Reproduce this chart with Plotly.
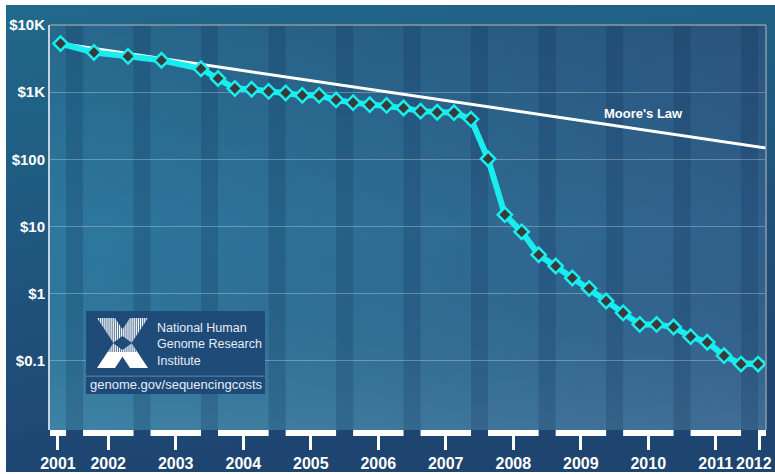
import datetime as dt
import urllib.parse
import plotly.graph_objects as go

# ---------------- data ----------------
dates = [
    "2001-09-01", "2002-03-01", "2002-09-01", "2003-03-01", "2003-10-01",
    "2004-01-01", "2004-04-01", "2004-07-01", "2004-10-01",
    "2005-01-01", "2005-04-01", "2005-07-01", "2005-10-01",
    "2006-01-01", "2006-04-01", "2006-07-01", "2006-10-01",
    "2007-01-01", "2007-04-01", "2007-07-01", "2007-10-01",
    "2008-01-01", "2008-04-01", "2008-07-01", "2008-10-01",
    "2009-01-01", "2009-04-01", "2009-07-01", "2009-10-01",
    "2010-01-01", "2010-04-01", "2010-07-01", "2010-10-01",
    "2011-01-01", "2011-04-01", "2011-07-01", "2011-10-01",
    "2012-01-01",
]
cost_per_mb = [
    5292.39, 3898.64, 3413.80, 2986.20, 2230.98,
    1598.91, 1135.70, 1107.46, 1028.85,
    974.16, 897.76, 898.90, 766.73,
    699.20, 651.81, 636.41, 581.92,
    522.71, 502.61, 495.96, 397.09,
    102.13, 15.03, 8.36, 3.81,
    2.59, 1.72, 1.20, 0.78,
    0.52, 0.35, 0.35, 0.32,
    0.23, 0.19, 0.12, 0.09,
    0.09,
]
moore_dates = ["2001-09-01", "2012-02-13"]
moore_values = [5292.39, 148.0]

years = ["2001", "2002", "2003", "2004", "2005", "2006",
         "2007", "2008", "2009", "2010", "2011", "2012"]
y_tickvals = [10000, 1000, 100, 10, 1, 0.1]
y_ticktext = ["$10K", "$1K", "$100", "$10", "$1", "$0.1"]

# ---------------- layout geometry ----------------
W, H = 775, 474
L, R, T, B = 50, 766, 25, 430          # plot area in pixels
x_start = dt.date(2001, 7, 6)
x_end = dt.date(2012, 2, 13)


def px(xp):
    return (xp - L) / (R - L)


def py(yp):
    return (B - yp) / (B - T)


def svg_uri(svg):
    return "data:image/svg+xml;charset=utf-8," + urllib.parse.quote(svg)


paper_svg = (
    '<svg xmlns="http://www.w3.org/2000/svg" width="100" height="100" '
    'viewBox="0 0 100 100" preserveAspectRatio="none">'
    '<defs><linearGradient id="g" x1="0" y1="0" x2="0.25" y2="1">'
    '<stop offset="0" stop-color="#21698b"/>'
    '<stop offset="0.45" stop-color="#1f5880"/>'
    '<stop offset="1" stop-color="#1e4470"/>'
    '</linearGradient></defs>'
    '<rect width="100" height="100" fill="url(#g)"/></svg>'
)
plot_svg = (
    '<svg xmlns="http://www.w3.org/2000/svg" width="100" height="100" '
    'viewBox="0 0 100 100" preserveAspectRatio="none">'
    '<defs><linearGradient id="h" x1="0" y1="0" x2="1" y2="0">'
    '<stop offset="0" stop-color="#2d789d"/>'
    '<stop offset="1" stop-color="#30608b"/>'
    '</linearGradient>'
    '<linearGradient id="v" x1="0" y1="0" x2="0" y2="1">'
    '<stop offset="0" stop-color="#000820" stop-opacity="0.14"/>'
    '<stop offset="0.5" stop-color="#000820" stop-opacity="0.0"/>'
    '<stop offset="1" stop-color="#ffffff" stop-opacity="0.08"/>'
    '</linearGradient></defs>'
    '<rect width="100" height="100" fill="url(#h)"/>'
    '<rect width="100" height="100" fill="url(#v)"/></svg>'
)

fig = go.Figure()

# Moore's law line
fig.add_trace(go.Scatter(
    x=moore_dates, y=moore_values, mode="lines",
    line=dict(color="white", width=3), hoverinfo="skip", showlegend=False,
))
# sequencing cost
fig.add_trace(go.Scatter(
    x=dates, y=cost_per_mb, mode="lines+markers",
    line=dict(color="#18eef0", width=6),
    marker=dict(symbol="diamond", size=11, color="#3a3a3a",
                line=dict(color="#18eef0", width=2.5)),
    showlegend=False,
))

shapes = []
# darker stripes Oct -> Jan and white bars Jan -> Oct under the axis
tickvals = []
ticktext = []
for yr in years:
    y = int(yr)
    s = max(dt.date(y, 1, 1), x_start)
    e = min(dt.date(y, 10, 1), x_end)
    mid = s + (e - s) / 2
    if y == 2012:
        mid = s + dt.timedelta(days=6)
    tickvals.append(mid.isoformat())
    # the last label sits at the right edge; it is drawn as an annotation
    ticktext.append("" if y == 2012 else yr)
    shapes.append(dict(type="rect", xref="x", yref="paper",
                       x0=s.isoformat(), x1=e.isoformat(),
                       y0=-6 / (B - T), y1=0, fillcolor="white",
                       line=dict(width=0), layer="above"))
    ds = dt.date(y, 10, 1)
    de = min(dt.date(y + 1, 1, 1), x_end)
    if ds < x_end:
        shapes.append(dict(type="rect", xref="x", yref="paper",
                           x0=ds.isoformat(), x1=de.isoformat(), y0=0, y1=1,
                           fillcolor="rgba(12,40,80,0.20)",
                           line=dict(width=0), layer="below"))

# frame (top and right)
shapes.append(dict(type="line", xref="paper", yref="paper", x0=0, x1=1, y0=1, y1=1,
                   line=dict(color="#8a9aab", width=1.5)))
shapes.append(dict(type="line", xref="paper", yref="paper", x0=1, x1=1, y0=0, y1=1,
                   line=dict(color="#8a9aab", width=1.5)))

# NHGRI box
shapes.append(dict(type="rect", xref="paper", yref="paper",
                   x0=px(86), x1=px(265), y0=py(376), y1=py(311),
                   fillcolor="#1f4b79", line=dict(width=0)))
shapes.append(dict(type="rect", xref="paper", yref="paper",
                   x0=px(86), x1=px(265), y0=py(394), y1=py(376.5),
                   fillcolor="#1f4a77", line=dict(width=0)))
shapes.append(dict(type="line", xref="paper", yref="paper",
                   x0=px(86), x1=px(265), y0=py(376), y1=py(376),
                   line=dict(color="rgba(255,255,255,0.25)", width=1)))


def poly(points):
    return "M " + " L ".join(f"{px(a):.5f},{py(b):.5f}" for a, b in points) + " Z"


# logo: X with diamond hole and vertical stripes
shapes.append(dict(type="path", xref="paper", yref="paper",
                   path=poly([(97, 318), (115, 318), (148, 368), (130, 368)]),
                   fillcolor="white", line=dict(width=0)))
shapes.append(dict(type="path", xref="paper", yref="paper",
                   path=poly([(130, 318), (148, 318), (115, 368), (97, 368)]),
                   fillcolor="white", line=dict(width=0)))
shapes.append(dict(type="path", xref="paper", yref="paper",
                   path=poly([(113, 343), (122.5, 336), (132, 343), (122.5, 350)]),
                   fillcolor="#1f4b79", line=dict(width=0)))
xs = 97.5
while xs < 148:
    shapes.append(dict(type="line", xref="paper", yref="paper",
                       x0=px(xs), x1=px(xs), y0=py(316), y1=py(352),
                       line=dict(color="#1f4b79", width=0.8)))
    xs += 2.1

annotations = [
    dict(text="<b>Moore's Law</b>", xref="paper", yref="paper",
         x=px(643), y=py(113), xanchor="center", yanchor="middle",
         showarrow=False,
         font=dict(family="Liberation Sans, Arial", size=13, color="white")),
    dict(text="National Human<br>Genome Research<br>Institute",
         xref="paper", yref="paper", x=px(155), y=py(344.5),
         xanchor="left", yanchor="middle", align="left", showarrow=False,
         font=dict(family="Liberation Sans, Arial", size=12.5, color="#e6edf5")),
    dict(text="genome.gov/sequencingcosts", xref="paper", yref="paper",
         x=px(176), y=py(384), xanchor="center", yanchor="middle",
         showarrow=False,
         font=dict(family="Liberation Sans, Arial", size=13, color="#e6edf5")),
    dict(text=years[-1], xref="paper", yref="paper",
         x=px(774), y=py(463), xanchor="right", yanchor="middle",
         showarrow=False,
         font=dict(family="Liberation Sans, Arial", size=16, color="white",
                   weight="bold")),
]

images = [
    dict(source=svg_uri(paper_svg), xref="paper", yref="paper",
         x=px(6), y=py(5), sizex=(W - 6) / (R - L), sizey=(472 - 5) / (B - T),
         xanchor="left", yanchor="top", sizing="stretch", layer="below"),
    dict(source=svg_uri(plot_svg), xref="paper", yref="paper",
         x=0, y=1, sizex=1, sizey=1,
         xanchor="left", yanchor="top", sizing="stretch", layer="below"),
]

fig.update_layout(
    width=W, height=H, autosize=False,
    template="none",
    margin=dict(l=L, r=W - R, t=T, b=H - B, pad=0),
    paper_bgcolor="white", plot_bgcolor="rgba(0,0,0,0)",
    showlegend=False,
    shapes=shapes, annotations=annotations, images=images,
    xaxis=dict(type="date", range=[x_start.isoformat(), x_end.isoformat()],
               tickmode="array", tickvals=tickvals, ticktext=ticktext,
               ticks="outside", ticklen=19, tickwidth=3, tickcolor="white",
               showgrid=False, zeroline=False, showline=False,
               ticklabeloverflow="allow",
               tickfont=dict(family="Liberation Sans, Arial", size=16,
                             color="white", weight="bold"),
               automargin=False, fixedrange=True),
    yaxis=dict(type="log", range=[-2.027, 4],
               tickmode="array", tickvals=y_tickvals, ticktext=y_ticktext,
               ticks="", showgrid=True, gridcolor="rgba(255,255,255,0.28)",
               gridwidth=1, zeroline=False,
               showline=True, linecolor="#c5d2df", linewidth=2,
               ticklabeloverflow="allow",
               tickfont=dict(family="Liberation Sans, Arial", size=15,
                             color="white", weight="bold"),
               automargin=False, fixedrange=True),
)

fig.write_html("out.html", config={"displayModeBar": False},
               post_script="document.body.style.margin='0';")
